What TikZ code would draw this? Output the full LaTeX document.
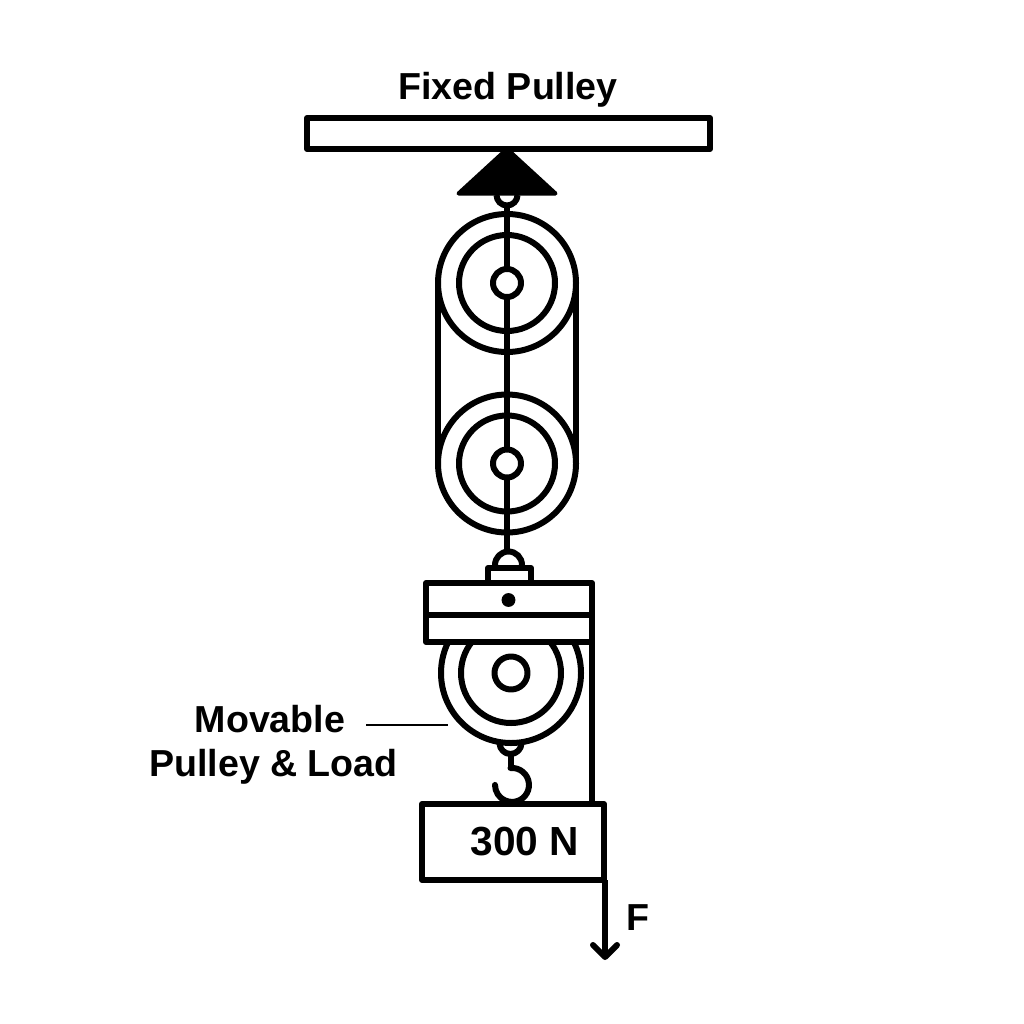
\documentclass[tikz,border=0pt]{standalone}
\usepackage{fontspec}
\setmainfont{Liberation Sans}
\tikzset{
  ink/.style={line width=4.5pt,draw=black,line join=round},
  wheel/.style={ink,circle,inner sep=0pt,outer sep=0pt,minimum size=#1*0.75pt},
  plate/.style={ink,fill=white},
  lbl/.style={font=\fontsize{28.2}{32}\selectfont\bfseries,inner sep=0pt,align=center},
  biglbl/.style={font=\fontsize{30.5}{34}\selectfont\bfseries,inner sep=0pt,align=center},
  leader/.style={line width=1.5pt,draw=black}
}
\begin{document}
\begin{tikzpicture}[x=0.75pt,y=-0.75pt]
\useasboundingbox (0,0) rectangle (1024,1024);
% named points
\coordinate (ropeTop) at (507,207);
\coordinate (ropeBot) at (507,552);
\coordinate (sideLT) at (438,283);
\coordinate (sideLB) at (438,463);
\coordinate (sideRT) at (576,283);
\coordinate (sideRB) at (576,463);
\coordinate (ropeFree1) at (592,640);
\coordinate (ropeFree2) at (592,804);
\coordinate (arrowTop) at (605,880);
\coordinate (arrowTip) at (605,957);
\coordinate (arrowL) at (593,945);
\coordinate (arrowR) at (617,945);
\coordinate (leadA) at (366,725);
\coordinate (leadB) at (448,725);
\coordinate (stemA) at (510.5,756);
\coordinate (stemB) at (510.5,768);
% support
\draw[ink,fill=white] (307,118) rectangle (710,149);
\fill[black,line join=round,draw=black,line width=3pt] (507,149) -- (555.5,193.5) -- (458.5,193.5) -- cycle;
\draw[ink] (496.5,195) arc[start angle=180,end angle=0,radius=10.5];
% upper block
\node[wheel=138] (upOuter) at (507,283) {};
\node[wheel=96] (upMid) at (507,283) {};
\node[wheel=138] (loOuter) at (507,463.5) {};
\node[wheel=96] (loMid) at (507,463.5) {};
\draw[ink] (sideLT) -- (sideLB);
\draw[ink] (sideRT) -- (sideRB);
\draw[ink] (ropeTop) -- (ropeBot);
\node[wheel=28,fill=white] (upHub) at (507,283) {};
\node[wheel=28,fill=white] (loHub) at (507,463.5) {};
% shackle and small plate
\draw[ink] (495,568) -- (495,565) arc[start angle=180,end angle=360,radius=13.5] -- (522,568);
\draw[plate] (488,583) -- (488,568) -- (531,568) -- (531,583);
% movable pulley
\node[wheel=140] (mvOuter) at (511,673) {};
\node[wheel=100] (mvMid) at (511,673) {};
\node[wheel=33] (mvHub) at (511,673) {};
\draw[plate] (426,583) rectangle (592,642);
\draw[ink] (426,615) -- (592,615);
\fill[black] (508.5,600) circle[radius=5.2pt];
\draw[ink] (ropeFree1) -- (ropeFree2);
% hook
\draw[ink] (499.5,743) arc[start angle=180,end angle=0,radius=11];
\draw[ink] (stemA) -- (stemB);
\draw[ink,line cap=round] (stemB) arc[start angle=-95,end angle=180,radius=17];
% load
\draw[ink,fill=white] (422,804) rectangle (604,880);
\node[biglbl] (load) at (525,841.5) {300 N};
% force arrow
\draw[ink] (arrowTop) -- (arrowTip);
\draw[ink,line cap=round] (arrowL) -- (arrowTip) -- (arrowR);
\node[lbl] (force) at (638,918) {F};
% labels
\node[lbl] (fixed) at (508,90) {Fixed Pulley};
\node[lbl] (mov1) at (270,719) {Movable};
\node[lbl] (mov2) at (273.5,767) {Pulley \& Load};
\draw[leader] (leadA) -- (leadB);
\end{tikzpicture}
\end{document}
